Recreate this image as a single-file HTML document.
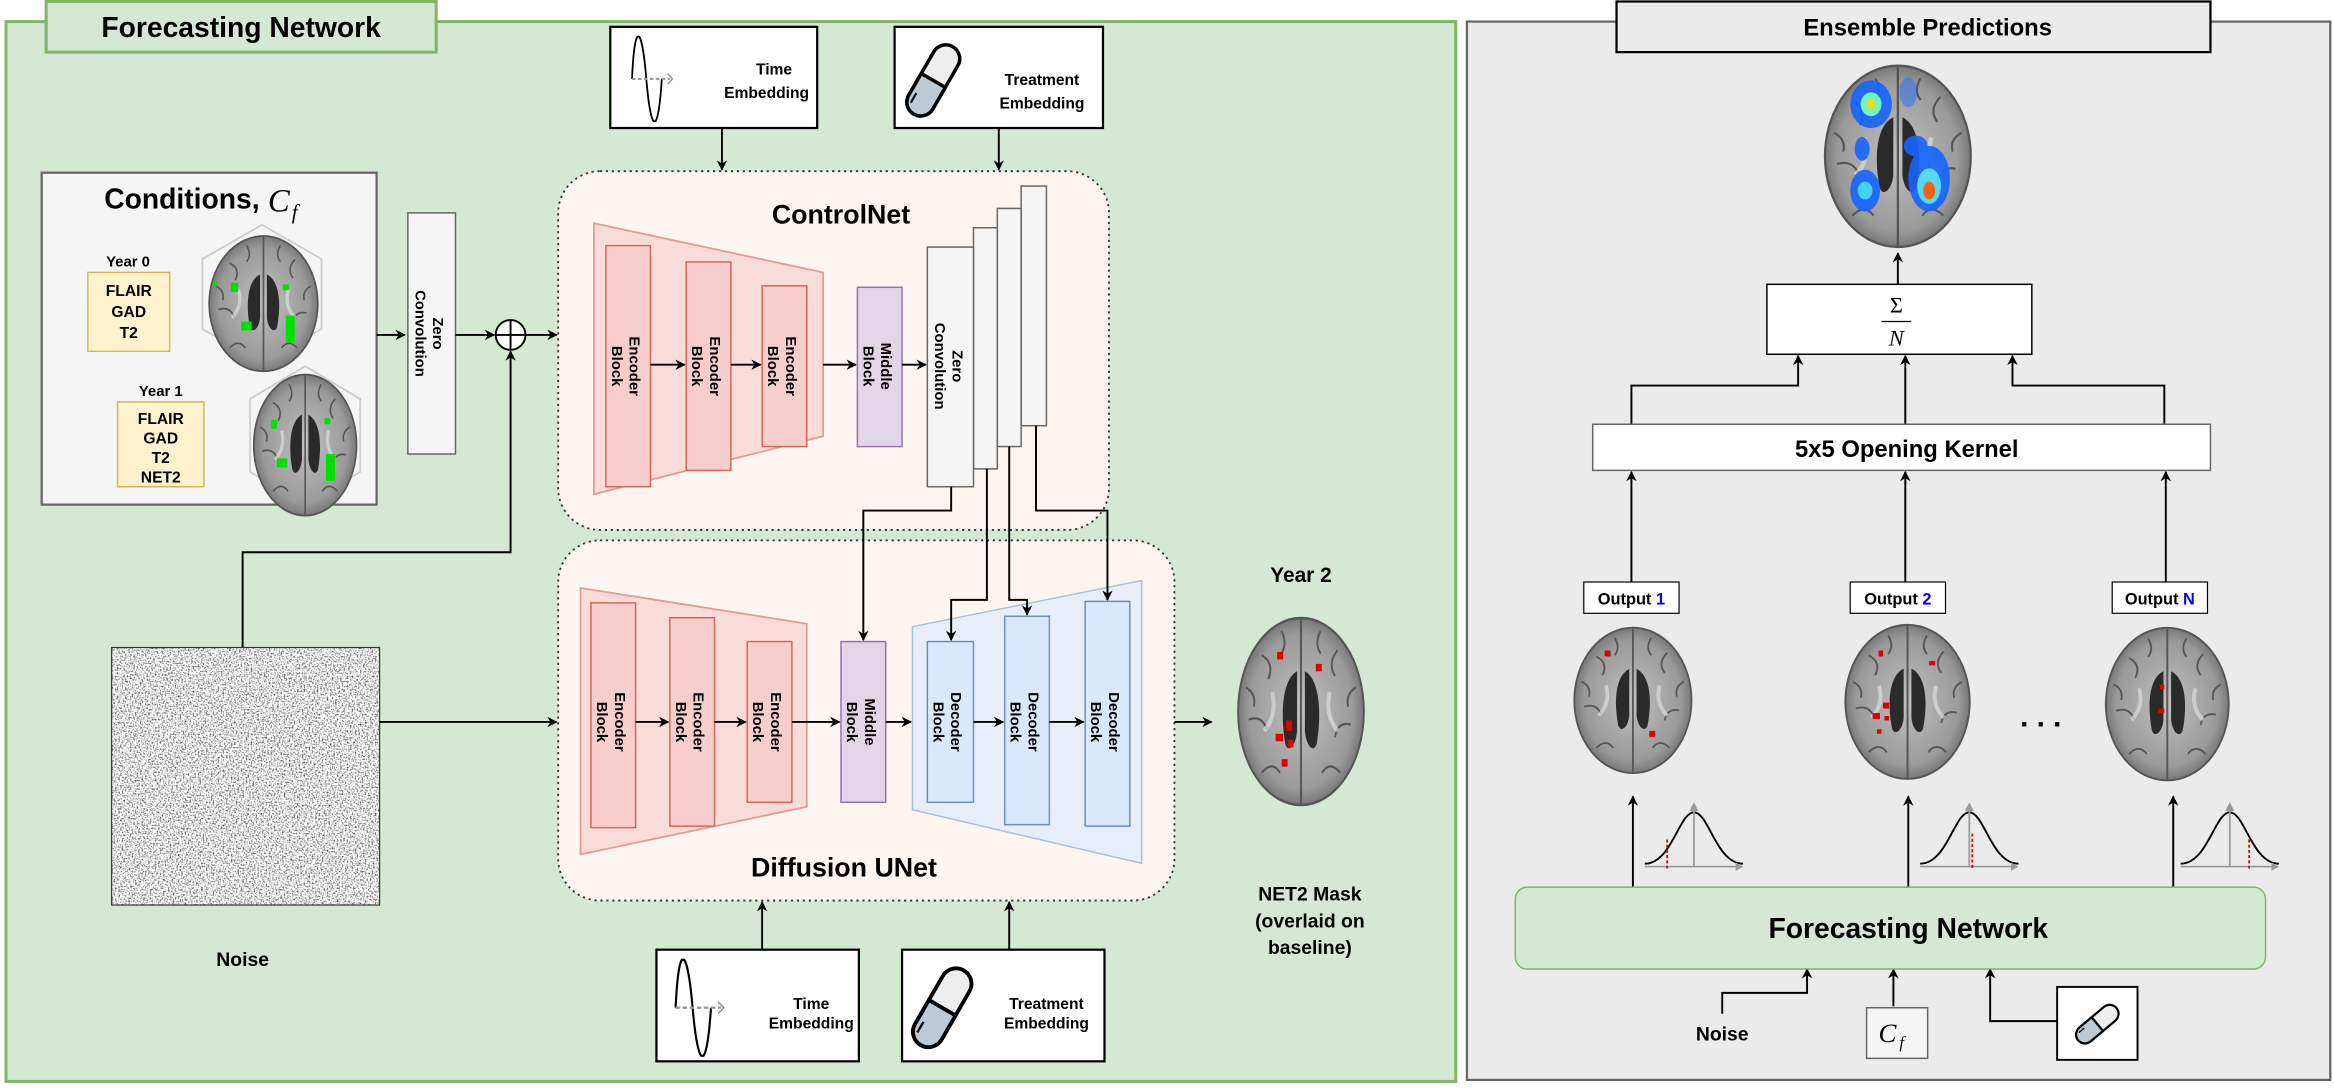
<!DOCTYPE html>
<html><head><meta charset="utf-8"><style>
html,body{margin:0;padding:0;background:#fff;}
svg{display:block;}
text{font-family:"Liberation Sans",Arial,sans-serif;font-weight:bold;fill:#000;}
text.m{font-family:"Liberation Serif",serif;font-weight:normal;font-style:italic;}
</style></head><body>
<svg width="2334" height="1092" viewBox="0 0 1568 733.6" xmlns="http://www.w3.org/2000/svg">
<defs>
  <marker id="ah" viewBox="0 0 10 10" refX="9" refY="5" markerWidth="7" markerHeight="7" orient="auto-start-reverse" markerUnits="userSpaceOnUse">
    <path d="M0,0 L10,5 L0,10 L3,5 z" fill="#000"/>
  </marker>
  <radialGradient id="bg" cx="50%" cy="50%" r="55%">
    <stop offset="0" stop-color="#c0c0c0"/><stop offset="0.75" stop-color="#9a9a9a"/><stop offset="1" stop-color="#666"/>
  </radialGradient>
  <filter id="nz" x="0" y="0" width="100%" height="100%">
    <feTurbulence type="fractalNoise" baseFrequency="0.9" numOctaves="2" seed="3"/>
    <feColorMatrix type="matrix" values="0 0 0 0 0  0 0 0 0 0  0 0 0 0 0  -2.0 0 0 0 1.1"/>
  </filter>
  <symbol id="brain" viewBox="-50 -60 100 120" preserveAspectRatio="none">
    <ellipse cx="0" cy="0" rx="48" ry="58" fill="url(#bg)" stroke="#555" stroke-width="1.5"/>
    <path d="M-30,-35 q10,5 5,15 M28,-38 q-8,8 -2,16 M-40,5 q10,-3 14,6 M38,8 q-10,-2 -12,8 M-30,38 q8,-8 14,0 M30,38 q-8,-8 -14,0 M-15,-50 q5,8 0,14 M15,-50 q-5,8 0,14 M-42,-15 q8,4 6,12 M42,-15 q-8,4 -6,12" stroke="#555" stroke-width="1.4" fill="none"/>
    <path d="M0,-58 L0,58" stroke="#555" stroke-width="1.5"/>
    <path d="M-3,-25 C-14,-20 -16,0 -12,20 C-10,26 -4,22 -3,12 Z" fill="#2a2a2a"/>
    <path d="M3,-25 C14,-20 16,0 12,20 C10,26 4,22 3,12 Z" fill="#2a2a2a"/>
    <path d="M-22,-12 q4,14 -6,24 M22,-12 q-4,14 6,24" stroke="#ddd" stroke-width="3" fill="none" opacity="0.7"/>
  </symbol>
  <symbol id="pill" viewBox="0 0 40 60">
    <g transform="rotate(30 20 30)">
      <rect x="10" y="2" width="20" height="56" rx="10" fill="#eee" stroke="#000" stroke-width="2.5"/>
      <path d="M10,30 L30,30 L30,48 A10,10 0 0 1 10,48 Z" fill="#bccad6" stroke="#000" stroke-width="2.5"/>
      <path d="M14,44 L14,52" stroke="#000" stroke-width="1.5"/>
    </g>
  </symbol>
  <symbol id="sine" viewBox="0 0 40 50" preserveAspectRatio="none">
    <path d="M2,25 C4,-8 10,-8 14,25 C18,58 24,58 27,25" stroke="#000" stroke-width="1.5" fill="none"/>
    <path d="M2,25 L34,25" stroke="#999" stroke-width="1.2" stroke-dasharray="3,2" fill="none"/>
    <path d="M32,22 L36,25 L32,28" stroke="#999" stroke-width="1" fill="none"/>
  </symbol>
  <symbol id="gauss" viewBox="0 0 70 50" preserveAspectRatio="none">
    <path d="M2,44 C20,44 25,8 35,8 C45,8 50,44 68,44" stroke="#000" stroke-width="1.3" fill="none"/>
    <path d="M2,46 L66,46" stroke="#999" stroke-width="1.2"/>
    <path d="M63,43 L68,46 L63,49 Z" fill="#999"/>
    <path d="M35,46 L35,4" stroke="#999" stroke-width="1.2"/>
    <path d="M32,7 L35,1 L38,7 Z" fill="#999"/>
  </symbol>
</defs>

<!-- LEFT PANEL -->
<rect x="4" y="14.5" width="974" height="712" fill="#d5e8d4" stroke="#82b366" stroke-width="2"/>
<rect x="31" y="1" width="262" height="34" fill="#d5e8d4" stroke="#82b366" stroke-width="2"/>
<text x="162" y="25" font-size="19" text-anchor="middle">Forecasting Network</text>

<!-- top embeddings -->
<rect x="410" y="18" width="139" height="68" fill="#fff" stroke="#000" stroke-width="1.5"/>
<use href="#sine" x="423" y="24" width="32" height="58"/>
<text x="520" y="50" font-size="10.5" text-anchor="middle">Time</text>
<text x="515" y="66" font-size="10.5" text-anchor="middle">Embedding</text>
<rect x="601" y="18" width="140" height="68" fill="#fff" stroke="#000" stroke-width="1.5"/>
<use href="#pill" x="608" y="26" width="38" height="56"/>
<text x="700" y="57" font-size="10.5" text-anchor="middle">Treatment</text>
<text x="700" y="73" font-size="10.5" text-anchor="middle">Embedding</text>
<line x1="485" y1="86" x2="485" y2="114" stroke="#000" stroke-width="1.3" marker-end="url(#ah)"/>
<line x1="671" y1="86" x2="671" y2="114" stroke="#000" stroke-width="1.3" marker-end="url(#ah)"/>

<!-- conditions -->
<rect x="28" y="116" width="225" height="223" fill="#f5f5f5" stroke="#666" stroke-width="1.5"/>
<text x="70" y="140" font-size="19">Conditions,</text>
<text x="180" y="142" font-size="22" class="m">C</text>
<text x="196" y="147" font-size="14" class="m">f</text>
<text x="86" y="179" font-size="10" text-anchor="middle">Year 0</text>
<rect x="59" y="183" width="55" height="53" fill="#fff2cc" stroke="#d6b656"/>
<text x="86.5" y="199" font-size="10.5" text-anchor="middle">FLAIR</text>
<text x="86.5" y="213" font-size="10.5" text-anchor="middle">GAD</text>
<text x="86.5" y="227" font-size="10.5" text-anchor="middle">T2</text>
<text x="108" y="266" font-size="10" text-anchor="middle">Year 1</text>
<rect x="79" y="270" width="58" height="57" fill="#fff2cc" stroke="#d6b656"/>
<text x="108" y="285" font-size="10.5" text-anchor="middle">FLAIR</text>
<text x="108" y="298" font-size="10.5" text-anchor="middle">GAD</text>
<text x="108" y="311" font-size="10.5" text-anchor="middle">T2</text>
<text x="108" y="324" font-size="10.5" text-anchor="middle">NET2</text>
<polygon points="176,151 216,174 216,221 176,244 136,221 136,174" fill="none" stroke="#ccc" stroke-width="1.2"/>
<use href="#brain" x="139" y="157" width="76" height="94"/>
<g fill="#00e000"><rect x="155" y="190" width="5" height="6"/><rect x="192" y="212" width="6" height="18"/><rect x="162" y="216" width="7" height="6"/><rect x="190" y="191" width="4" height="4"/><rect x="143" y="189" width="3" height="3"/></g>
<polygon points="205,246 242,268 242,317 205,339 168,317 168,268" fill="none" stroke="#ccc" stroke-width="1.2"/>
<use href="#brain" x="169" y="250" width="72" height="98"/>
<g fill="#00e000"><rect x="182" y="282" width="4" height="6"/><rect x="219" y="305" width="6" height="18"/><rect x="186" y="308" width="7" height="6"/><rect x="218" y="281" width="4" height="4"/></g>

<line x1="253" y1="225" x2="272" y2="225" stroke="#000" stroke-width="1.3" marker-end="url(#ah)"/>
<rect x="274" y="143" width="32" height="162" fill="#f5f5f5" stroke="#666"/>
<text transform="translate(291,224) rotate(90)" font-size="10" text-anchor="middle">Zero</text>
<text transform="translate(279,224) rotate(90)" font-size="10" text-anchor="middle">Convolution</text>
<line x1="306" y1="225" x2="332" y2="225" stroke="#000" stroke-width="1.3" marker-end="url(#ah)"/>
<circle cx="343" cy="225" r="10" fill="#fff" stroke="#000" stroke-width="1.3"/>
<path d="M333,225 H353 M343,215 V235" stroke="#000" stroke-width="1.3"/>
<line x1="353" y1="225" x2="374" y2="225" stroke="#000" stroke-width="1.3" marker-end="url(#ah)"/>
<polyline points="163,435 163,371 343,371 343,236" fill="none" stroke="#000" stroke-width="1.3" marker-end="url(#ah)"/>

<!-- noise -->
<rect x="75" y="435" width="180" height="173" fill="#fff"/>
<rect x="75" y="435" width="180" height="173" filter="url(#nz)"/>
<rect x="75" y="435" width="180" height="173" fill="none" stroke="#333" stroke-width="0.8"/>
<text x="163" y="649" font-size="13" text-anchor="middle">Noise</text>
<line x1="255" y1="485" x2="374" y2="485" stroke="#000" stroke-width="1.3" marker-end="url(#ah)"/>

<!-- ControlNet -->
<rect x="375" y="115" width="370" height="241" rx="28" fill="#fdf5ef" stroke="#333" stroke-width="1.2" stroke-dasharray="1.5,2.5"/>
<text x="565" y="150" font-size="18" text-anchor="middle">ControlNet</text>
<polygon points="399,150 553,183 553,293 399,332" fill="#f9dcd7" stroke="#e39c94" stroke-width="1.2"/>
<rect x="407" y="165" width="30" height="162" fill="#f8cecc" stroke="#d66560"/>
<rect x="461" y="176" width="30" height="140" fill="#f8cecc" stroke="#d66560"/>
<rect x="512" y="192" width="30" height="108" fill="#f8cecc" stroke="#d66560"/>
<rect x="576" y="193" width="30" height="107" fill="#e1d5e7" stroke="#9673a6"/>
<rect x="686" y="125" width="17" height="161" fill="#f5f5f5" stroke="#666"/>
<rect x="670" y="140" width="16" height="160" fill="#f5f5f5" stroke="#666"/>
<rect x="654" y="153" width="16" height="162" fill="#f5f5f5" stroke="#666"/>
<rect x="623" y="166" width="31" height="161" fill="#f5f5f5" stroke="#666"/>
<g font-size="10">
<text transform="translate(423,246) rotate(90)" text-anchor="middle">Encoder</text>
<text transform="translate(411,246) rotate(90)" text-anchor="middle">Block</text>
<text transform="translate(477,246) rotate(90)" text-anchor="middle">Encoder</text>
<text transform="translate(465,246) rotate(90)" text-anchor="middle">Block</text>
<text transform="translate(528,246) rotate(90)" text-anchor="middle">Encoder</text>
<text transform="translate(516,246) rotate(90)" text-anchor="middle">Block</text>
<text transform="translate(592,246) rotate(90)" text-anchor="middle">Middle</text>
<text transform="translate(580,246) rotate(90)" text-anchor="middle">Block</text>
<text transform="translate(640,246) rotate(90)" text-anchor="middle">Zero</text>
<text transform="translate(628,246) rotate(90)" text-anchor="middle">Convolution</text>
</g>
<g stroke="#000" stroke-width="1.3" marker-end="url(#ah)">
<line x1="437" y1="245" x2="460" y2="245"/>
<line x1="491" y1="245" x2="511" y2="245"/>
<line x1="553" y1="245" x2="575" y2="245"/>
<line x1="606" y1="245" x2="622" y2="245"/>
</g>

<!-- Diffusion UNet -->
<rect x="375" y="363" width="414" height="242" rx="28" fill="#fdf5ef" stroke="#333" stroke-width="1.2" stroke-dasharray="1.5,2.5"/>
<polygon points="390,395 542,419 542,542 390,574" fill="#f9dcd7" stroke="#e39c94" stroke-width="1.2"/>
<polygon points="613,421 767,390 767,580 613,544" fill="#e8eef9" stroke="#a8bfe0" stroke-width="1"/>
<rect x="397" y="405" width="30" height="151" fill="#f8cecc" stroke="#d66560"/>
<rect x="450" y="415" width="30" height="140" fill="#f8cecc" stroke="#d66560"/>
<rect x="502" y="431" width="30" height="108" fill="#f8cecc" stroke="#d66560"/>
<rect x="565" y="431" width="30" height="108" fill="#e1d5e7" stroke="#9673a6"/>
<rect x="623" y="431" width="31" height="108" fill="#dae8fc" stroke="#6c8ebf"/>
<rect x="675" y="414" width="30" height="140" fill="#dae8fc" stroke="#6c8ebf"/>
<rect x="729" y="404" width="30" height="151" fill="#dae8fc" stroke="#6c8ebf"/>
<g font-size="10">
<text transform="translate(413,485) rotate(90)" text-anchor="middle">Encoder</text>
<text transform="translate(401,485) rotate(90)" text-anchor="middle">Block</text>
<text transform="translate(466,485) rotate(90)" text-anchor="middle">Encoder</text>
<text transform="translate(454,485) rotate(90)" text-anchor="middle">Block</text>
<text transform="translate(518,485) rotate(90)" text-anchor="middle">Encoder</text>
<text transform="translate(506,485) rotate(90)" text-anchor="middle">Block</text>
<text transform="translate(581,485) rotate(90)" text-anchor="middle">Middle</text>
<text transform="translate(569,485) rotate(90)" text-anchor="middle">Block</text>
<text transform="translate(639,485) rotate(90)" text-anchor="middle">Decoder</text>
<text transform="translate(627,485) rotate(90)" text-anchor="middle">Block</text>
<text transform="translate(691,485) rotate(90)" text-anchor="middle">Decoder</text>
<text transform="translate(679,485) rotate(90)" text-anchor="middle">Block</text>
<text transform="translate(745,485) rotate(90)" text-anchor="middle">Decoder</text>
<text transform="translate(733,485) rotate(90)" text-anchor="middle">Block</text>
</g>
<text x="567" y="589" font-size="18" text-anchor="middle">Diffusion UNet</text>
<g stroke="#000" stroke-width="1.3" fill="none" marker-end="url(#ah)">
<line x1="427" y1="485" x2="449" y2="485"/>
<line x1="480" y1="485" x2="501" y2="485"/>
<line x1="532" y1="485" x2="564" y2="485"/>
<line x1="595" y1="485" x2="612" y2="485"/>
<line x1="654" y1="485" x2="674" y2="485"/>
<line x1="705" y1="485" x2="728" y2="485"/>
<line x1="789" y1="485" x2="814" y2="485"/>
<polyline points="639,327 639,343 580,343 580,430"/>
<polyline points="663,315 663,403 639,403 639,430"/>
<polyline points="678,300 678,403 690,403 690,413"/>
<polyline points="696,286 696,343 744,343 744,403"/>
<line x1="512" y1="638" x2="512" y2="606"/>
<line x1="678" y1="638" x2="678" y2="606"/>
</g>

<!-- bottom embeddings -->
<rect x="441" y="638" width="136" height="75" fill="#fff" stroke="#000" stroke-width="1.5"/>
<use href="#sine" x="452" y="644" width="38" height="66"/>
<text x="545" y="678" font-size="10.5" text-anchor="middle">Time</text>
<text x="545" y="691" font-size="10.5" text-anchor="middle">Embedding</text>
<rect x="606" y="638" width="136" height="75" fill="#fff" stroke="#000" stroke-width="1.5"/>
<use href="#pill" x="612" y="646" width="42" height="62"/>
<text x="703" y="678" font-size="10.5" text-anchor="middle">Treatment</text>
<text x="703" y="691" font-size="10.5" text-anchor="middle">Embedding</text>

<!-- Year 2 -->
<text x="874" y="391" font-size="14" text-anchor="middle">Year 2</text>
<use href="#brain" x="830" y="413" width="88" height="130"/>
<g fill="#e00000"><rect x="858" y="438" width="4" height="5"/><rect x="884" y="446" width="4" height="5"/><rect x="864" y="484" width="4" height="7"/><rect x="857" y="493" width="5" height="5"/><rect x="865" y="497" width="4" height="5"/><rect x="861" y="510" width="4" height="5"/></g>
<text x="880" y="605" font-size="13" text-anchor="middle">NET2 Mask</text>
<text x="880" y="623" font-size="13" text-anchor="middle">(overlaid on</text>
<text x="880" y="641" font-size="13" text-anchor="middle">baseline)</text>

<!-- RIGHT PANEL -->
<rect x="985.5" y="14.5" width="580" height="711" fill="#ebebeb" stroke="#666" stroke-width="1.5"/>
<rect x="1086" y="1" width="399" height="34" fill="#ebebeb" stroke="#000" stroke-width="1.5"/>
<text x="1295" y="24" font-size="16" text-anchor="middle">Ensemble Predictions</text>

<use href="#brain" x="1224" y="42" width="102" height="126"/>
<g opacity="0.9">
<ellipse cx="1257" cy="70" rx="14" ry="16" fill="#1565ff"/><ellipse cx="1257" cy="70" rx="7" ry="8" fill="#6cffc0"/><ellipse cx="1257" cy="70" rx="3" ry="3" fill="#ffe000"/>
<ellipse cx="1296" cy="120" rx="14" ry="22" fill="#1565ff"/><ellipse cx="1296" cy="125" rx="8" ry="12" fill="#4ce0ff"/><ellipse cx="1296" cy="128" rx="4" ry="6" fill="#ff5a00"/>
<ellipse cx="1253" cy="128" rx="10" ry="14" fill="#1565ff"/><ellipse cx="1253" cy="128" rx="5" ry="6" fill="#3ad8ff"/>
<ellipse cx="1287" cy="98" rx="8" ry="7" fill="#1565ff"/><ellipse cx="1251" cy="100" rx="5" ry="8" fill="#1565ff"/>
<ellipse cx="1282" cy="62" rx="6" ry="10" fill="#1565ff" opacity="0.5"/>
</g>
<line x1="1275" y1="191" x2="1275" y2="170" stroke="#000" stroke-width="1.3" marker-end="url(#ah)"/>
<rect x="1187" y="191" width="178" height="47" fill="#fff" stroke="#000" stroke-width="1"/>
<text x="1274" y="210" font-size="15" text-anchor="middle" style="font-family:'Liberation Serif',serif;font-weight:normal">Σ</text>
<line x1="1264" y1="216" x2="1284" y2="216" stroke="#000" stroke-width="0.8"/>
<text x="1274" y="232" font-size="15" text-anchor="middle" class="m">N</text>
<g stroke="#000" stroke-width="1.3" fill="none" marker-end="url(#ah)">
<polyline points="1096,286 1096,259 1208,259 1208,239"/>
<line x1="1280" y1="286" x2="1280" y2="239"/>
<polyline points="1454,286 1454,259 1352,259 1352,239"/>
<line x1="1096" y1="392" x2="1096" y2="317"/>
<line x1="1280" y1="392" x2="1280" y2="317"/>
<line x1="1455" y1="392" x2="1455" y2="317"/>
<line x1="1097" y1="596" x2="1097" y2="535"/>
<line x1="1282" y1="596" x2="1282" y2="535"/>
<line x1="1460" y1="596" x2="1460" y2="535"/>
<polyline points="1157,681 1157,667 1214,667 1214,651"/>
<line x1="1272" y1="676" x2="1272" y2="651"/>
<polyline points="1382,686 1337,686 1337,651"/>
</g>
<rect x="1070" y="285" width="415" height="31" fill="#fff" stroke="#666" stroke-width="1"/>
<text x="1281" y="307" font-size="16" text-anchor="middle">5x5 Opening Kernel</text>

<rect x="1064" y="391" width="64" height="21" fill="#fff" stroke="#000" stroke-width="0.8"/>
<text x="1096" y="406" font-size="11" text-anchor="middle">Output <tspan fill="#0000ff">1</tspan></text>
<rect x="1243" y="391" width="64" height="21" fill="#fff" stroke="#000" stroke-width="0.8"/>
<text x="1275" y="406" font-size="11" text-anchor="middle">Output <tspan fill="#0000ff">2</tspan></text>
<rect x="1419" y="391" width="64" height="21" fill="#fff" stroke="#000" stroke-width="0.8"/>
<text x="1451" y="406" font-size="11" text-anchor="middle">Output <tspan fill="#0000ff">N</tspan></text>

<use href="#brain" x="1056" y="420" width="82" height="101"/>
<use href="#brain" x="1238" y="418" width="87" height="107"/>
<use href="#brain" x="1413" y="420" width="86" height="106"/>
<g fill="#e00000">
<rect x="1078" y="437" width="4" height="4"/><rect x="1108" y="491" width="4" height="4"/>
<rect x="1262" y="437" width="3" height="4"/><rect x="1296" y="444" width="4" height="3"/><rect x="1265" y="472" width="4" height="4"/><rect x="1258" y="479" width="5" height="4"/><rect x="1266" y="481" width="3" height="3"/><rect x="1261" y="490" width="3" height="3"/>
<rect x="1451" y="460" width="3" height="3"/><rect x="1450" y="476" width="4" height="3"/>
</g>
<text x="1371" y="488" font-size="20" text-anchor="middle">. . .</text>

<use href="#gauss" x="1103" y="538" width="70" height="48"/>
<use href="#gauss" x="1288" y="538" width="70" height="48"/>
<use href="#gauss" x="1463" y="538" width="70" height="48"/>
<line x1="1120" y1="564" x2="1120" y2="584" stroke="#d00" stroke-width="1.2" stroke-dasharray="2,1.5"/>
<line x1="1325" y1="560" x2="1325" y2="584" stroke="#d00" stroke-width="1.2" stroke-dasharray="2,1.5"/>
<line x1="1511" y1="564" x2="1511" y2="584" stroke="#d00" stroke-width="1.2" stroke-dasharray="2,1.5"/>

<rect x="1018" y="596" width="504" height="55" rx="8" fill="#d5e8d4" stroke="#82b366"/>
<text x="1282" y="630" font-size="19" text-anchor="middle">Forecasting Network</text>
<text x="1157" y="699" font-size="13" text-anchor="middle">Noise</text>
<rect x="1254" y="677" width="41" height="34" fill="#f5f5f5" stroke="#666"/>
<text x="1262" y="700" font-size="18" class="m">C</text>
<text x="1276" y="704" font-size="11" class="m">f</text>
<rect x="1382" y="663" width="54" height="49" fill="#fff" stroke="#000" stroke-width="1.3"/>
<use href="#pill" x="1397" y="670" width="24" height="36" transform="rotate(20 1409 688)"/>
</svg>
</body></html>
